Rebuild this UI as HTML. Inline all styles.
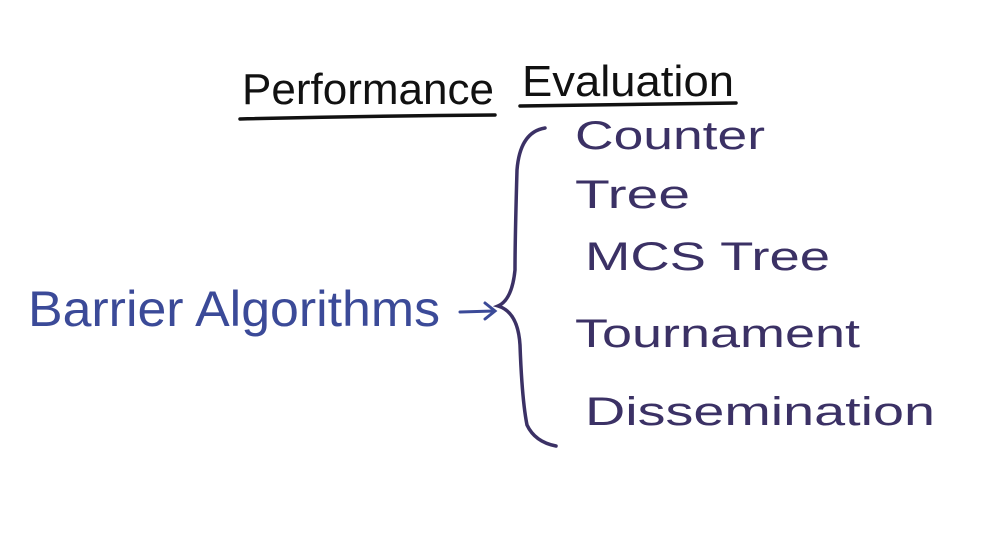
<!DOCTYPE html>
<html><head><meta charset="utf-8"><style>
html,body{margin:0;padding:0;background:#fff;width:1004px;height:557px;overflow:hidden}
svg{display:block}
text{font-family:"Liberation Sans",sans-serif}
</style></head><body>
<svg width="1004" height="557" viewBox="0 0 1004 557" xmlns="http://www.w3.org/2000/svg">
<g fill="#111" font-size="44">
<text x="242" y="104" textLength="252" lengthAdjust="spacingAndGlyphs">Performance</text>
<text x="522" y="96" textLength="212" lengthAdjust="spacingAndGlyphs">Evaluation</text>
</g>
<g stroke="#111" stroke-width="3.5" fill="none" stroke-linecap="round">
<path d="M240 119 Q370 116 495 115"/>
<path d="M520 106 Q630 104 736 103"/>
</g>
<text x="28" y="326" fill="#3b4a98" font-size="50" textLength="412" lengthAdjust="spacingAndGlyphs">Barrier Algorithms</text>
<g stroke="#3b4a98" stroke-width="3" fill="none" stroke-linecap="round">
<path d="M460 312 L494 311"/>
<path d="M485 303 L495 311 L485 319"/>
</g>
<g stroke="#3b3165" stroke-width="3.5" fill="none" stroke-linecap="round">
<path d="M545 128 Q520 132 517 170 Q515 240 515 270 Q512 300 498 306 Q518 312 520 345 Q522 400 527 425 Q535 442 556 446"/>
</g>
<g fill="#3b3165" font-size="40">
<text x="575" y="149" textLength="190" lengthAdjust="spacingAndGlyphs">Counter</text>
<text x="575" y="208" textLength="115" lengthAdjust="spacingAndGlyphs">Tree</text>
<text x="585" y="270" textLength="245" lengthAdjust="spacingAndGlyphs">MCS Tree</text>
<text x="575" y="347" textLength="285" lengthAdjust="spacingAndGlyphs">Tournament</text>
<text x="585" y="425" textLength="350" lengthAdjust="spacingAndGlyphs">Dissemination</text>
</g>
</svg>
</body></html>
